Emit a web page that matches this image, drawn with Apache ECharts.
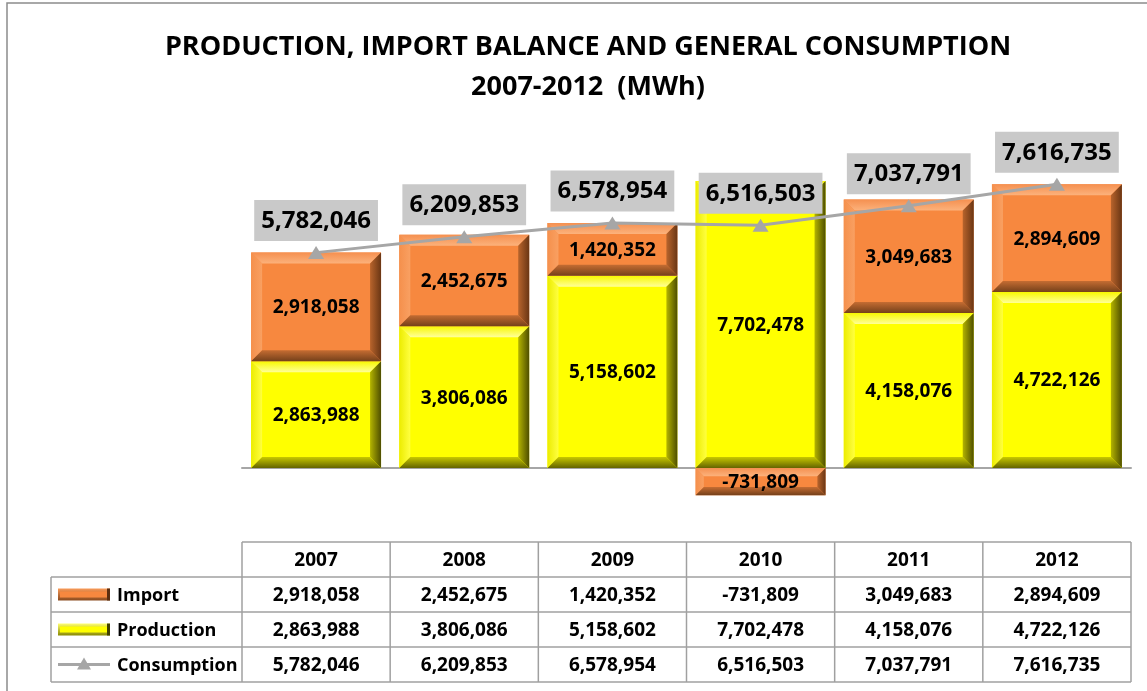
<!DOCTYPE html>
<html>
<head>
<meta charset="utf-8">
<title>Production, import balance and general consumption</title>
<script src="https://cdn.jsdelivr.net/npm/echarts@6/dist/echarts.min.js"></script>
<style>
  html, body { margin: 0; padding: 0; background: #fff; }
  #chart { width: 1147px; height: 691px; }
</style>
</head>
<body>
<div id="chart"></div>
<script>
  const years = ['2007', '2008', '2009', '2010', '2011', '2012']
  const importValues = [2918058, 2452675, 1420352, -731809, 3049683, 2894609]
  const productionValues = [2863988, 3806086, 5158602, 7702478, 4158076, 4722126]
  const consumptionValues = [5782046, 6209853, 6578954, 6516503, 7037791, 7616735]
  const seriesNames = ['Import', 'Production', 'Consumption']

  const font = "'Open Sans', 'Noto Sans', sans-serif"
  const fmt = v => v.toLocaleString('en-US')
  const lg = (x0, y0, x1, y1, a, b) => new echarts.graphic.LinearGradient(x0, y0, x1, y1, [
    {offset: 0, color: a}, {offset: 1, color: b}
  ])

  const orange = {
    main: '#f7883f',
    top: () => lg(0, 0, 0, 1, '#f59050', '#fcb27c'),
    left: () => lg(0, 0, 1, 0, '#f5904c', '#f9a062'),
    right: () => lg(1, 0, 0, 0, '#6a3614', '#b8642c'),
    bottom: () => lg(0, 1, 0, 0, '#74401a', '#c46c32')
  }
  const yellow = {
    main: '#ffff00',
    top: () => lg(0, 0, 0, 1, '#f8f800', '#ffff9a'),
    left: () => lg(0, 0, 1, 0, '#ecec00', '#ffff40'),
    right: () => lg(1, 0, 0, 0, '#4e4e00', '#b4b400'),
    bottom: () => lg(0, 1, 0, 0, '#646400', '#c8c800')
  }

  // bevelled box like the excel 3d bar; data item = [index, base, top, value]
  function bevelBar (c) {
    return function (params, api) {
      const idx = api.value(0)
      const lo = api.coord([idx, api.value(1)])
      const hi = api.coord([idx, api.value(2)])
      const w = api.size([1, 0])[0] * 0.877
      const x = lo[0] - w / 2
      const y = Math.min(lo[1], hi[1])
      const h = Math.abs(lo[1] - hi[1])
      const b = Math.min(11, h * 0.3)
      const poly = (pts, fill) => ({type: 'polygon', shape: {points: pts}, style: {fill: fill}})
      return {
        type: 'group',
        children: [
          {type: 'rect', shape: {x: x, y: y, width: w, height: h}, style: {fill: c.main}},
          poly([[x, y], [x + w, y], [x + w - b, y + b], [x + b, y + b]], c.top()),
          poly([[x, y], [x + b, y + b], [x + b, y + h - b], [x, y + h]], c.left()),
          poly([[x + w, y], [x + w, y + h], [x + w - b, y + h - b], [x + w - b, y + b]], c.right()),
          poly([[x, y + h], [x + b, y + h - b], [x + w - b, y + h - b], [x + w, y + h]], c.bottom()),
          {
            type: 'text',
            z2: 10,
            style: {
              x: x + w / 2, y: y + h / 2 + 1, text: fmt(api.value(3)),
              fill: '#000', font: 'bold 19px ' + font, align: 'center', verticalAlign: 'middle'
            }
          }
        ]
      }
    }
  }

  const productionData = productionValues.map((v, i) => [i, 0, v, v])
  const importData = importValues.map((v, i) => {
    const base = v >= 0 ? productionValues[i] : 0
    return [i, base, base + v, v]
  })

  let myChart = echarts.init(document.getElementById('chart'))
  myChart.setOption({
    animation: false,
    title: {
      text: 'PRODUCTION, IMPORT BALANCE AND GENERAL CONSUMPTION\n2007-2012  (MWh)',
      left: 583,
      textAlign: 'center',
      top: 22,
      textStyle: {
        fontFamily: font,
        fontWeight: 'bold',
        fontSize: 27,
        lineHeight: 40,
        color: '#000'
      }
    },
    grid: {
      left: 242,
      right: 16,
      top: 170,
      bottom: 148.5
    },
    xAxis: {
      type: 'category',
      data: years,
      axisLabel: {show: false},
      axisTick: {show: false},
      axisLine: {onZero: true, lineStyle: {color: '#a6a6a6', width: 2}}
    },
    yAxis: {
      type: 'value',
      min: -2000000,
      max: 8000000,
      show: false,
      splitLine: {show: false}
    },
    series: [
      {
        name: seriesNames[1],
        type: 'custom',
        renderItem: bevelBar(yellow),
        encode: {x: 0, y: [1, 2]},
        data: productionData
      },
      {
        name: seriesNames[0],
        type: 'custom',
        renderItem: bevelBar(orange),
        encode: {x: 0, y: [1, 2]},
        data: importData
      },
      {
        name: seriesNames[2],
        type: 'line',
        z: 5,
        data: consumptionValues,
        color: '#a6a6a6',
        lineStyle: {width: 3, color: '#a6a6a6'},
        symbol: 'triangle',
        symbolSize: [16, 13],
        itemStyle: {color: '#a6a6a6'},
        label: {
          show: true,
          position: 'top',
          distance: 5,
          formatter: p => fmt(p.value),
          backgroundColor: '#c9c9c9',
          padding: [9, 7, 8, 7],
          color: '#000',
          fontFamily: font,
          fontWeight: 'bold',
          fontSize: 24
        }
      }
    ]
  })

  // data table under the plot, columns lined up with the categories
  const centers = years.map((y, i) => myChart.convertToPixel({xAxisIndex: 0}, i))
  const colW = centers[1] - centers[0]
  const tLeft = 51
  const cLeft = centers[0] - colW / 2
  const cRight = centers[5] + colW / 2
  const rowY = [542, 577, 612, 647, 682]
  const lineStyle = {stroke: '#a0a0a0', lineWidth: 1.5}
  const cellText = (x, y, t, align, size) => ({
    type: 'text',
    style: {x: x, y: y, text: t, fill: '#000', font: 'bold ' + (size || 19) + 'px ' + font, align: align || 'center', verticalAlign: 'middle'}
  })
  const hline = (x1, x2, y) => ({type: 'line', shape: {x1: x1, y1: y, x2: x2, y2: y}, style: lineStyle})
  const vline = (x, y1, y2) => ({type: 'line', shape: {x1: x, y1: y1, x2: x, y2: y2}, style: lineStyle})

  const graphics = [
    {type: 'rect', shape: {x: 7, y: 3, width: 1170, height: 720}, style: {fill: 'none', stroke: '#8c8c8c', lineWidth: 1.5}},
    hline(cLeft, cRight, rowY[0])
  ]
  rowY.slice(1).forEach(y => graphics.push(hline(tLeft, cRight, y)))
  graphics.push(vline(tLeft, rowY[1], rowY[4]))
  for (let k = 0; k <= years.length; k++) graphics.push(vline(cLeft + k * colW, rowY[0], rowY[4]))

  const rows = [importValues, productionValues, consumptionValues]
  years.forEach((y, i) => {
    graphics.push(cellText(centers[i], (rowY[0] + rowY[1]) / 2 + 1, y))
    rows.forEach((vals, r) => {
      graphics.push(cellText(centers[i], (rowY[r + 1] + rowY[r + 2]) / 2 + 1, fmt(vals[i])))
    })
  })

  // legend keys in the first column
  const keyX = 58
  const keyW = 52
  const keys = [orange, yellow]
  keys.forEach((c, r) => {
    const cy = (rowY[r + 1] + rowY[r + 2]) / 2
    graphics.push({
      type: 'rect',
      shape: {x: keyX, y: cy - 6, width: keyW, height: 12},
      style: {fill: lg(0, 0, 0, 1, c === orange ? '#f99a58' : '#ffff70', c === orange ? '#8a4a1e' : '#8a8a00')}
    })
    graphics.push({
      type: 'rect',
      shape: {x: keyX + 2, y: cy - 3, width: keyW - 5, height: 6},
      style: {fill: c.main}
    })
    graphics.push({
      type: 'rect',
      shape: {x: keyX + keyW - 3, y: cy - 6, width: 3, height: 12},
      style: {fill: c === orange ? '#5a2e10' : '#404000'}
    })
  })
  const cy3 = (rowY[3] + rowY[4]) / 2
  graphics.push({type: 'line', shape: {x1: keyX, y1: cy3, x2: keyX + keyW, y2: cy3}, style: {stroke: '#a6a6a6', lineWidth: 3}})
  graphics.push({
    type: 'polygon',
    shape: {points: [[keyX + keyW / 2 - 7, cy3 + 5], [keyX + keyW / 2 + 7, cy3 + 5], [keyX + keyW / 2, cy3 - 7]]},
    style: {fill: '#a6a6a6'}
  })
  seriesNames.forEach((n, r) => {
    graphics.push(cellText(117, (rowY[r + 1] + rowY[r + 2]) / 2 + 1, n, 'left', 18))
  })

  myChart.setOption({graphic: {elements: graphics}})
</script>
</body>
</html>
